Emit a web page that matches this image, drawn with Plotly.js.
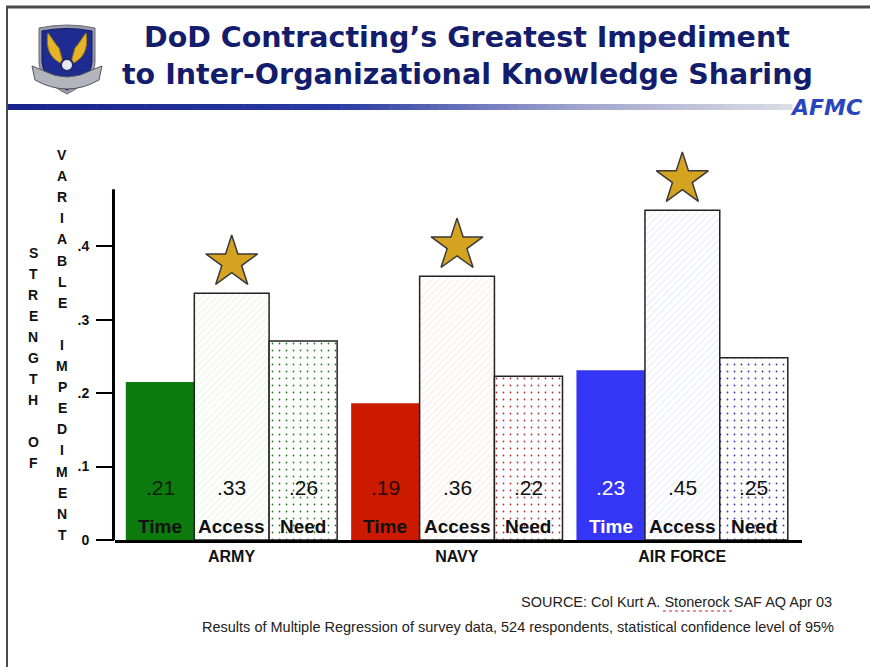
<!DOCTYPE html>
<html>
<head>
<meta charset="utf-8">
<script src="https://cdn.plot.ly/plotly-3.0.1.min.js"></script>
<style>html,body{margin:0;padding:0;background:#fff;}#chart{width:870px;height:667px;}</style>
</head>
<body>
<div id="chart"></div>
<script>
// ---- data ----
const groups = ["ARMY", "NAVY", "AIR FORCE"];
const seriesNames = ["Time", "Access", "Need"];
const timeVals = [0.215, 0.186, 0.231];
const accessVals = [0.336, 0.359, 0.449];
const needVals = [0.271, 0.223, 0.248];
const timeLabels = [".21", ".19", ".23"];
const accessLabels = [".33", ".36", ".45"];
const needLabels = [".26", ".22", ".25"];
const yTickVals = [0, 0.1, 0.2, 0.3, 0.4];
const yTickText = ["0", ".1", ".2", ".3", ".4"];
const yTitleCol1 = "STRENGTH OF";
const yTitleCol2 = "VARIABLE IMPEDIMENT";
const titleLine1 = "DoD Contracting\u2019s Greatest Impediment";
const titleLine2 = "to Inter-Organizational Knowledge Sharing";
const sourceText = "SOURCE: Col Kurt A. Stonerock SAF AQ Apr 03";
const noteText = "Results of Multiple Regression of survey data, 524 respondents, statistical confidence level of 95%";

// ---- layout helpers (pixel -> paper) ----
const W = 870, H = 667, L = 115, R = 802, T = 158, B = 540;
const yMax = 0.52, yAxisTop = 0.4776;
const px = x => (x - L) / (R - L);
const py = y => (B - y) / (B - T);
const FONT = "Liberation Sans, Arial, sans-serif";

const gx = groups.map((g, i) => i);   // group positions on the linear x axis

// bar geometry per series (x-axis units)
const geom = [
  {offset: -0.469, width: 0.304},
  {offset: -0.165, width: 0.332},
  {offset: 0.167, width: 0.302}
];
const timeColors = ["#0c7a0c", "#cc1a00", "#3535f5"];
const hatchColors = ["#78b478", "#cc8282", "#8484cc"];
const hatchBg = ["#f1f8f1", "#fbf1f1", "#f1f1fb"];
const dotColors = ["#2a7a2a", "#b83030", "#3535b8"];

const traces = [
  {type: "bar", name: seriesNames[0], x: gx, y: timeVals,
   offset: geom[0].offset, width: geom[0].width,
   marker: {color: timeColors, line: {width: 0}}},
  {type: "bar", name: seriesNames[1], x: gx, y: accessVals,
   offset: geom[1].offset, width: geom[1].width,
   marker: {color: hatchBg, line: {color: "#222", width: 1.5},
            pattern: {shape: "/", size: 5, solidity: 0.4, fgcolor: hatchColors, bgcolor: hatchBg, fillmode: "replace"}}},
  {type: "bar", name: seriesNames[2], x: gx, y: needVals,
   offset: geom[2].offset, width: geom[2].width,
   marker: {color: "#ffffff", line: {color: "#222", width: 1.5},
            pattern: {shape: ".", size: 7, solidity: 0.05, fgcolor: dotColors, bgcolor: "#ffffff", fillmode: "replace"}}},
  {type: "scatter", mode: "markers",
   x: gx.map(i => i + geom[1].offset + geom[1].width / 2),
   y: accessVals.map(v => v + 0.042),
   marker: {symbol: "star", size: 39, color: "#d4a320", line: {color: "#3a3a3a", width: 1.5}},
   cliponaxis: false}
];

const annotations = [];
const valueSets = [timeLabels, accessLabels, needLabels];
gx.forEach(i => {
  for (let s = 0; s < 3; s++) {
    const cx = i + geom[s].offset + geom[s].width / 2;
    const white = (s === 0 && i === 2);
    const valColor = s === 0 ? (i === 2 ? "#ffffff" : (i === 0 ? "#0a200a" : "#2a0800")) : "#111";
    annotations.push({x: cx, y: 0.072, xref: "x", yref: "y", text: valueSets[s][i], showarrow: false,
      font: {family: FONT, size: 21, color: valColor}});
    annotations.push({x: cx, y: 0.0185, xref: "x", yref: "y", text: "<b>" + seriesNames[s] + "</b>", showarrow: false,
      font: {family: FONT, size: 19, color: white ? "#ffffff" : "#111"}});
  }
});
// vertical stacked axis title letters
function stack(str, xpix, y0, step) {
  let k = 0;
  for (const ch of str) {
    if (ch !== " ") {
      annotations.push({x: px(xpix), y: py(y0 + k * step), xref: "paper", yref: "paper", text: "<b>" + ch + "</b>",
        showarrow: false, xanchor: "center", yanchor: "middle", font: {family: FONT, size: 14, color: "#111"}});
    }
    k++;
  }
}
stack(yTitleCol1, 33, 253, 21);
stack(yTitleCol2, 62, 155, 21.1);

// title lines
const TFONT = {family: "DejaVu Sans, sans-serif", size: 28.5, color: "#141c6c", weight: "bold"};
annotations.push({x: px(467), y: py(37), xref: "paper", yref: "paper", xanchor: "center", yanchor: "middle",
  text: titleLine1, showarrow: false, font: TFONT});
annotations.push({x: px(467), y: py(75), xref: "paper", yref: "paper", xanchor: "center", yanchor: "middle",
  text: titleLine2, showarrow: false, font: TFONT});

annotations.push({x: px(834), y: py(602), xref: "paper", yref: "paper", xanchor: "right", yanchor: "middle",
  text: sourceText, showarrow: false, font: {family: FONT, size: 14.5, color: "#222"}});
annotations.push({x: px(836), y: py(627), xref: "paper", yref: "paper", xanchor: "right", yanchor: "middle",
  text: noteText, showarrow: false, font: {family: FONT, size: 14.5, color: "#222"}});
annotations.push({x: px(826), y: py(108), xref: "paper", yref: "paper", xanchor: "center", yanchor: "middle",
  text: "AFMC", showarrow: false, font: {family: "DejaVu Sans, sans-serif", size: 22, color: "#2a46bc", weight: "bold", style: "italic"}});

// ---- decorative shapes ----
const shapes = [];
// y axis line (ends at the top of the value scale)
shapes.push({type: "line", xref: "paper", yref: "y", x0: -0.0022, x1: -0.0022, y0: -0.003, y1: yAxisTop, line: {color: "#000", width: 3}});
// frame
shapes.push({type: "line", xref: "paper", yref: "paper", x0: px(6), x1: px(870), y0: py(7), y1: py(7), line: {color: "#4a4a4a", width: 3}});
shapes.push({type: "line", xref: "paper", yref: "paper", x0: px(7), x1: px(7), y0: py(6), y1: py(667), line: {color: "#4a4a4a", width: 2}});
// gradient rule
function hex(c){return [parseInt(c.slice(1,3),16),parseInt(c.slice(3,5),16),parseInt(c.slice(5,7),16)];}
const stops = [[0, "#18238c"], [0.42, "#2a3aa4"], [0.72, "#9ca2cc"], [1, "#dcdce4"]];
function gcol(t) {
  for (let i = 1; i < stops.length; i++) {
    if (t <= stops[i][0]) {
      const a = hex(stops[i-1][1]), b = hex(stops[i][1]);
      const f = (t - stops[i-1][0]) / (stops[i][0] - stops[i-1][0]);
      return "rgb(" + a.map((v, j) => Math.round(v + (b[j] - v) * f)).join(",") + ")";
    }
  }
  return stops[stops.length-1][1];
}
const gx0 = 8, gx1 = 792, N = 80;
for (let i = 0; i < N; i++) {
  const a = gx0 + (gx1 - gx0) * i / N, b = gx0 + (gx1 - gx0) * (i + 1) / N + 0.6;
  shapes.push({type: "rect", xref: "paper", yref: "paper", x0: px(a), x1: px(b), y0: py(110), y1: py(104),
    fillcolor: gcol(i / (N - 1)), line: {width: 0}});
}
// emblem
function P(pts) {
  return pts.replace(/(-?\d+(\.\d+)?),(-?\d+(\.\d+)?)/g, (m, a, _b, c) => px(+a).toFixed(5) + "," + py(+c).toFixed(5));
}
shapes.push({type: "path", xref: "paper", yref: "paper", path: P("M 39,28 Q 67,22 95,28 L 95,62 Q 95,80 67,94 Q 39,80 39,62 Z"),
  fillcolor: "#9a9aa8", line: {color: "#6a6a78", width: 1}});
shapes.push({type: "path", xref: "paper", yref: "paper", path: P("M 42,31 Q 67,26 92,31 L 92,62 Q 92,77 67,90 Q 42,77 42,62 Z"),
  fillcolor: "#1e2c92", line: {color: "#101a60", width: 1}});
shapes.push({type: "path", xref: "paper", yref: "paper", path: P("M 63,64 C 52,60 45,50 48,33 C 52,38 55,44 59,48 C 60,52 62,58 63,64 Z"),
  fillcolor: "#e6b428", line: {color: "#a07a10", width: 1}});
shapes.push({type: "path", xref: "paper", yref: "paper", path: P("M 71,64 C 82,60 89,50 86,33 C 82,38 79,44 75,48 C 74,52 72,58 71,64 Z"),
  fillcolor: "#e6b428", line: {color: "#a07a10", width: 1}});
shapes.push({type: "circle", xref: "paper", yref: "paper", x0: px(61), x1: px(73), y0: py(59), y1: py(71),
  fillcolor: "#e8e8f0", line: {color: "#202a70", width: 2}});
shapes.push({type: "path", xref: "paper", yref: "paper", path: P("M 32,66 L 42,70 Q 67,84 92,70 L 102,66 L 99,80 Q 67,98 35,80 Z"),
  fillcolor: "#b4b4bc", line: {color: "#555560", width: 1}});
// spell-check squiggle under Stonerock
shapes.push({type: "line", xref: "paper", yref: "paper", x0: px(663), x1: px(734), y0: py(611), y1: py(611),
  line: {color: "#d02020", width: 1, dash: "dot"}});

const layout = {
  width: W, height: H,
  margin: {l: L, r: W - R, t: T, b: H - B, pad: 0},
  paper_bgcolor: "#ffffff", plot_bgcolor: "#ffffff",
  showlegend: false,
  barmode: "overlay",
  xaxis: {range: [-0.517, 2.532], tickvals: gx, ticktext: groups, showline: true, linecolor: "#000", linewidth: 3,
    ticks: "", showgrid: false, zeroline: false, fixedrange: true,
    tickfont: {family: FONT, size: 16, color: "#111", weight: "bold"}},
  yaxis: {range: [0, yMax], tickvals: yTickVals, ticktext: yTickText, showline: false,
    ticks: "outside", ticklen: 18, tickwidth: 2, tickcolor: "#000", ticklabelstandoff: 4,
    showgrid: false, zeroline: false, fixedrange: true,
    tickfont: {family: FONT, size: 14, color: "#111", weight: "bold"}},
  annotations: annotations,
  shapes: shapes
};
Plotly.newPlot("chart", traces, layout, {displayModeBar: false, staticPlot: true});
</script>
</body>
</html>
